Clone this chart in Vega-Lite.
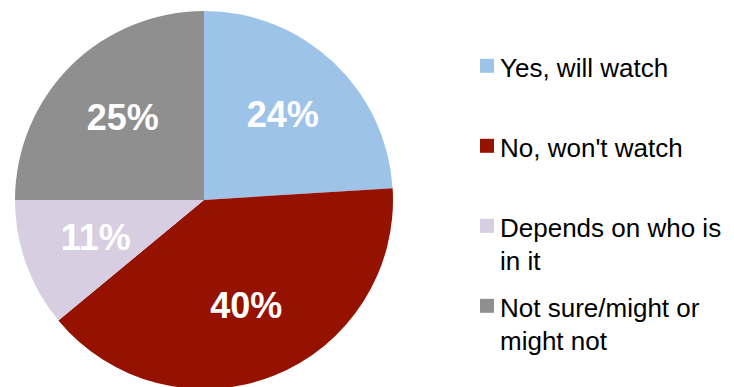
{
  "$schema": "https://vega.github.io/schema/vega-lite/v6.json",
  "width": 408,
  "height": 400,
  "padding": {"left": 0, "top": 0, "bottom": 0, "right": 326},
  "autosize": {"type": "none"},
  "background": "white",
  "config": {"view": {"stroke": null}, "style": {"guide-label": {"lineHeight": 33}}},
  "data": {
    "values": [
      {"category": "Yes, will watch", "value": 24, "label": "24%", "order": 1},
      {"category": "No, won't watch", "value": 40, "label": "40%", "order": 2},
      {"category": "Depends on who is in it", "value": 11, "label": "11%", "order": 3},
      {"category": "Not sure/might or might not", "value": 25, "label": "25%", "order": 4}
    ]
  },
  "encoding": {
    "theta": {"field": "value", "type": "quantitative", "stack": true},
    "order": {"field": "order", "type": "quantitative"}
  },
  "layer": [
    {
      "mark": {"type": "arc", "outerRadius": 189},
      "encoding": {
        "color": {
          "field": "category",
          "type": "nominal",
          "sort": ["Yes, will watch", "No, won't watch", "Depends on who is in it", "Not sure/might or might not"],
          "scale": {
            "domain": ["Yes, will watch", "No, won't watch", "Depends on who is in it", "Not sure/might or might not"],
            "range": ["#9DC3E8", "#961200", "#D7CEE1", "#8F8F8F"]
          },
          "legend": {
            "title": null,
            "orient": "none",
            "legendX": 474,
            "legendY": 64,
            "symbolType": "M-1,-2.6H1V-0.6H-1Z",
            "symbolSize": 196,
            "symbolStrokeWidth": 0,
            "symbolOpacity": 1,
            "labelFont": "Liberation Sans",
            "labelFontSize": 26,
            "labelColor": "#000000",
            "labelBaseline": "alphabetic",
            "labelOffset": 0,
            "labelLimit": 300,
            "rowPadding": 21,
            "labelExpr": "datum.label == 'Depends on who is in it' ? ['Depends on who is', 'in it'] : datum.label == 'Not sure/might or might not' ? ['Not sure/might or', 'might not'] : [datum.label, ' ']"
          }
        }
      }
    },
    {
      "mark": {"type": "text", "radius": 115, "font": "Liberation Sans", "fontSize": 36, "fontWeight": "bold", "color": "white"},
      "encoding": {
        "text": {"field": "label", "type": "nominal"}
      }
    }
  ]
}
